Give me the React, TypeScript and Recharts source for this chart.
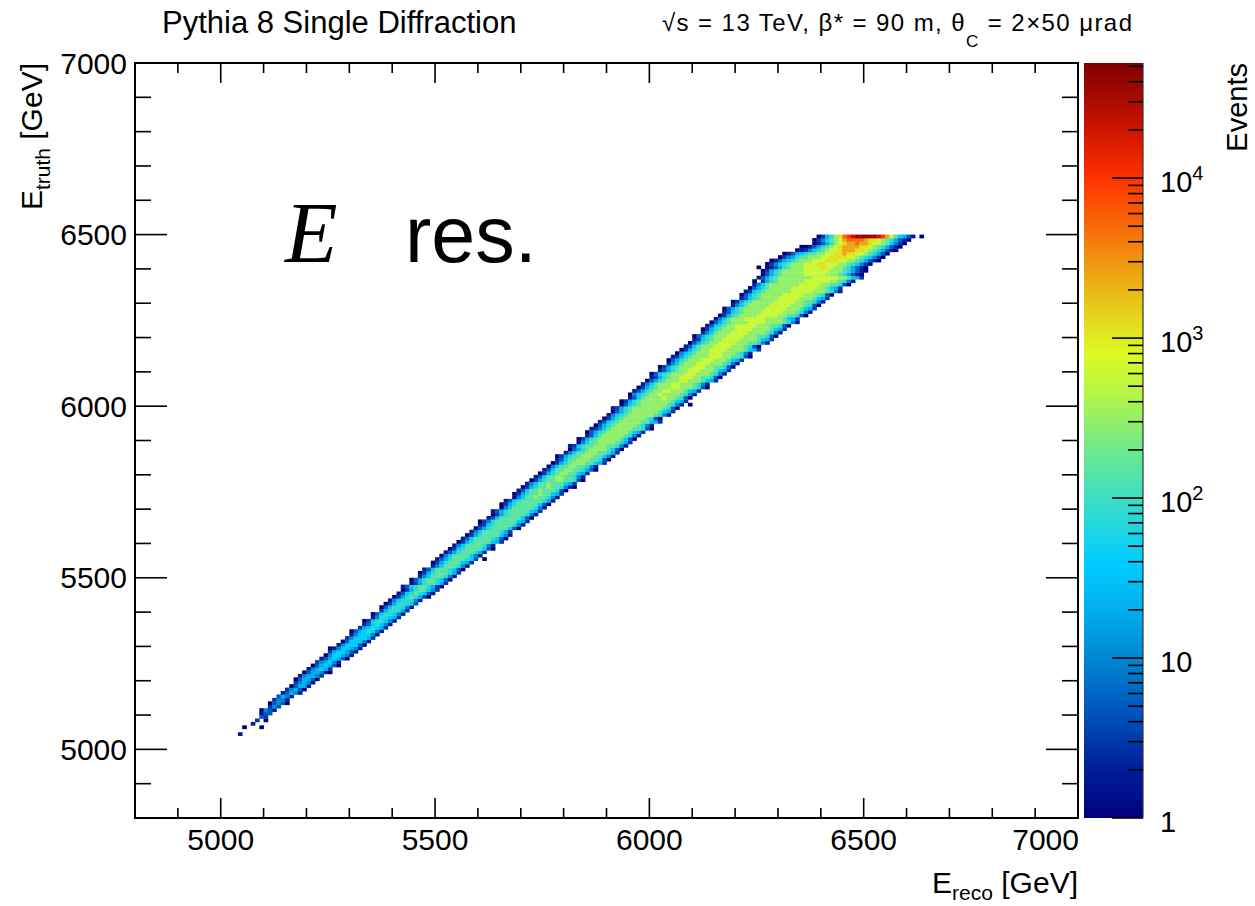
import React from 'react'
import { ScatterChart, Scatter, XAxis, YAxis, ReferenceArea, BarChart, Bar } from 'recharts'

// axis ticks (GeV)
const xTicks = [4900, 5000, 5100, 5200, 5300, 5400, 5500, 5600, 5700, 5800, 5900, 6000, 6100, 6200, 6300, 6400, 6500, 6600, 6700, 6800, 6900, 7000]
const yTicks = [4900, 5000, 5100, 5200, 5300, 5400, 5500, 5600, 5700, 5800, 5900, 6000, 6100, 6200, 6300, 6400, 6500, 6600, 6700, 6800, 6900, 7000]

// colour axis (events, log)
const zTicks = [
  1, 2, 3, 4, 5, 6, 7, 8, 9,
  10, 20, 30, 40, 50, 60, 70, 80, 90,
  100, 200, 300, 400, 500, 600, 700, 800, 900,
  1000, 2000, 3000, 4000, 5000, 6000, 7000, 8000, 9000,
  10000, 20000, 30000, 40000, 50000,
]
const zMajorTicks = [1, 10, 100, 1000, 10000]
const zMajorExp = ['', '', '2', '3', '4']
const zMax = 52400

// palette: log10(events) -> rgb
const paletteLog = [0, 0.3, 0.7, 1.0, 1.3, 1.6, 2.0, 2.3, 2.65, 2.9, 3.1, 3.4, 3.7, 4.0, 4.3, 4.72]
const paletteRgb = [
  [0, 0, 128], [0, 30, 150], [0, 90, 190], [0, 135, 210], [0, 175, 235], [0, 205, 255],
  [60, 222, 195], [110, 232, 140], [180, 245, 70], [220, 250, 35], [228, 220, 28],
  [238, 165, 20], [248, 105, 8], [255, 50, 0], [205, 20, 0], [128, 0, 0],
]

// cell content codes -> events per 10x10 GeV bin ('.' = empty bin)
const levelCodes = '0123456789abcdefg'
const levelCounts = [1, 2, 3, 5, 10, 20, 40, 80, 150, 300, 600, 1200, 2500, 5000, 10000, 20000, 40000]

// [E_truth bin, first E_reco bin, cells left->right]
const bandRows: [number, number, string][] = [
  [5040, 5040, '1'],
  [5060, 5050, '0...0'],
  [5070, 5070, '1'],
  [5080, 5080, '2.0'],
  [5090, 5090, '32'],
  [5100, 5090, '133'],
  [5110, 5090, '0431'],
  [5120, 5110, '243'],
  [5130, 5110, '03430'],
  [5140, 5120, '2441'],
  [5150, 5130, '3541'],
  [5160, 5140, '13541'],
  [5170, 5150, '24530'],
  [5180, 5160, '03551'],
  [5190, 5170, '24541'],
  [5200, 5170, '035530'],
  [5210, 5180, '145542'],
  [5220, 5190, '0355410'],
  [5230, 5200, '145652'],
  [5240, 5210, '0356530'],
  [5250, 5220, '245641'],
  [5260, 5230, '1356530'],
  [5270, 5240, '0466541'],
  [5280, 5250, '2566531'],
  [5290, 5250, '01466541'],
  [5300, 5270, '1466630'],
  [5310, 5280, '0366641'],
  [5320, 5290, '2466652'],
  [5330, 5300, '1466641'],
  [5340, 5300, '03567641'],
  [5350, 5320, '2567652'],
  [5360, 5330, '1367641'],
  [5370, 5330, '02677641'],
  [5380, 5350, '1477652'],
  [5390, 5350, '03677641'],
  [5400, 5370, '2577752'],
  [5410, 5370, '03677741'],
  [5420, 5380, '02577763'],
  [5430, 5390, '14677741'],
  [5440, 5400, '025787520'],
  [5450, 5410, '136787631'],
  [5460, 5420, '025788642'],
  [5470, 5420, '1367887520'],
  [5480, 5440, '025788752'],
  [5490, 5440, '0357887630'],
  [5500, 5460, '146888741'],
  [5510, 5460, '0257888752'],
  [5520, 5470, '1368887630'],
  [5530, 5490, '146888741'],
  [5540, 5490, '0257888652'],
  [5550, 5500, '1357888763.0'],
  [5560, 5510, '0468888641'],
  [5570, 5520, '1357888752'],
  [5580, 5530, '02678888630'],
  [5590, 5540, '1468888741'],
  [5600, 5550, '02578888652'],
  [5610, 5560, '13688887630'],
  [5620, 5570, '02578888641'],
  [5630, 5580, '1468888752'],
  [5640, 5590, '03578888630'],
  [5650, 5600, '12678888741'],
  [5660, 5600, '024788888652'],
  [5670, 5620, '13688888630'],
  [5680, 5630, '02578888741'],
  [5690, 5630, '135788888652'],
  [5700, 5650, '04688888741'],
  [5710, 5650, '025788888630'],
  [5720, 5660, '136788888751'],
  [5730, 5680, '04688988741'],
  [5740, 5680, '025788988652'],
  [5750, 5690, '136889888730'],
  [5760, 5700, '0257889887410'],
  [5770, 5710, '146889888652'],
  [5780, 5720, '0257889988730'],
  [5790, 5730, '136889988741'],
  [5800, 5740, '025789988652'],
  [5810, 5750, '1368899887530'],
  [5820, 5760, '046889988741'],
  [5830, 5770, '0257899988652'],
  [5840, 5780, '1368899988730'],
  [5850, 5780, '02578899988641'],
  [5860, 5800, '1468899988752'],
  [5870, 5810, '0357899998630'],
  [5880, 5810, '12678899988741'],
  [5890, 5830, '0468899998752'],
  [5900, 5830, '02578999998630'],
  [5910, 5850, '1368999998741'],
  [5920, 5850, '03578999998652'],
  [5930, 5860, '124689999988730'],
  [5940, 5870, '03578999998741'],
  [5950, 5880, '136789999988652'],
  [5960, 5890, '02578999998730'],
  [5970, 5900, '146789999998741'],
  [5980, 5910, '035789999998652'],
  [5990, 5910, '1257899999998730'],
  [6000, 5930, '036789999998741.0'],
  [6010, 5930, '0257899999998652'],
  [6020, 5950, '13689999a998730'],
  [6030, 5950, '0467899a99998741'],
  [6040, 5960, '1357899aa9998652'],
  [6050, 5970, '02578999aa9998730'],
  [6060, 5980, '1468999aa9998741'],
  [6070, 5990, '03578999aa9998652'],
  [6080, 6000, '1257899aaa9988730'],
  [6090, 6000, '03678999aaa9998741'],
  [6100, 6020, '1357899aaa9998652'],
  [6110, 6020, '02578999aaa9988730'],
  [6120, 6040, '1468999aaa9998741'],
  [6130, 6040, '03578999aaa9998652'],
  [6140, 6050, '125789999aaa9988730'],
  [6150, 6060, '04678999aaa9998741'],
  [6160, 6070, '0257899aaaa99998652'],
  [6170, 6080, '1368999aaaa9998730'],
  [6180, 6090, '0357899aaaa99988741'],
  [6190, 6100, '1267899aaaa99998652'],
  [6200, 6100, '03578999aaaa99988730'],
  [6210, 6120, '1468999aaaa99998741'],
  [6220, 6120, '02578999aaaa99998652'],
  [6230, 6130, '1367899aaaaa99988730'],
  [6240, 6140, '035789999aaaa99998741'],
  [6250, 6150, '1468999aaaaa99998652'],
  [6260, 6160, '025789999aaaaa9988730'],
  [6270, 6170, '136789999aaaaa9998741'],
  [6280, 6170, '0357899999aaaaa9998652'],
  [6290, 6190, '146899999aaaaa9998730'],
  [6300, 6190, '0257899999aaaaa9988741'],
  [6310, 6210, '136789999aaaaa9998652'],
  [6320, 6210, '0357899999aaaaa9998730'],
  [6330, 6220, '12678999999aaaaa9998741'],
  [6340, 6230, '0357899999aaaaaa998652'],
  [6350, 6240, '14689999999aaaaa9988730'],
  [6360, 6240, '0.2578999999aaaaaa998741'],
  [6370, 6250, '1357899999999aaaaaa998652'],
  [6380, 6260, '0357899999aaaaa999875310'],
  [6390, 6260, '0257899999aaaaaa999875310'],
  [6400, 6250, '0.013578999aaaabaa99875310'],
  [6410, 6270, '024678999aaabbaaa99876420'],
  [6420, 6280, '0135678999aaabbbaa99875310'],
  [6430, 6300, '0245788999aabbbbaa9876420'],
  [6440, 6310, '0135678899aabbcbbaa987530'],
  [6450, 6340, '01246789aabcccbba9875310'],
  [6460, 6350, '00135789abccccbba9875310'],
  [6470, 6380, '013579abccdccbaa986420'],
  [6480, 6380, '024689acddddcbba9875310'],
  [6490, 6390, '02579bdefgggggfeca86531.0'],
]

const PLOT = { left: 135, top: 63, right: 1078, bottom: 818 }
const CELL_W = (10 * (PLOT.right - PLOT.left)) / 2200
const CELL_H = (10 * (PLOT.bottom - PLOT.top)) / 2200
const FONT = '"Liberation Sans", Arial, Helvetica, sans-serif'

const cells = bandRows.flatMap(([truth, start, code]) =>
  code.split('').flatMap((ch, i) =>
    ch === '.' ? [] : [{ ereco: start + 10 * i + 5, etruth: truth + 5, events: levelCounts[levelCodes.indexOf(ch)] }],
  ),
)

const colourBar = [{ name: 'Events', top: zMax }]

function eventColour(n: number) {
  const l = Math.log10(n)
  let i = 0
  while (i < paletteLog.length - 2 && l > paletteLog[i + 1]) i++
  const t = Math.min(1, Math.max(0, (l - paletteLog[i]) / (paletteLog[i + 1] - paletteLog[i])))
  const a = paletteRgb[i]
  const b = paletteRgb[i + 1]
  const c = a.map((v, k) => Math.round(v + (b[k] - v) * t))
  return `rgb(${c[0]},${c[1]},${c[2]})`
}

function renderCell(props: any) {
  const { cx, cy, payload } = props
  return (
    <rect
      x={cx - CELL_W / 2}
      y={cy - CELL_H / 2}
      width={CELL_W + 0.35}
      height={CELL_H + 0.35}
      fill={eventColour(payload.events)}
    />
  )
}

function XTick(props: any) {
  const { x, y, payload } = props
  const v = payload.value
  const major = v % 500 === 0
  const len = major ? 20 : 10
  const last = v === 7000
  return (
    <g>
      <line x1={x} x2={x} y1={y} y2={y - len} stroke="#000" strokeWidth={1.6} />
      <line x1={x} x2={x} y1={PLOT.top} y2={PLOT.top + len} stroke="#000" strokeWidth={1.6} />
      {major && (
        <text x={last ? x + 1 : x} y={y + 32} textAnchor={last ? 'end' : 'middle'} fontSize={30} fontFamily={FONT} fill="#000">
          {v}
        </text>
      )}
    </g>
  )
}

function YTick(props: any) {
  const { x, y, payload } = props
  const v = payload.value
  const major = v % 500 === 0
  const len = major ? 32 : 16
  return (
    <g>
      <line x1={x} x2={x + len} y1={y} y2={y} stroke="#000" strokeWidth={1.6} />
      <line x1={PLOT.right} x2={PLOT.right - len} y1={y} y2={y} stroke="#000" strokeWidth={1.6} />
      {major && (
        <text x={x - 8} y={y + 10.5} textAnchor="end" fontSize={30} fontFamily={FONT} fill="#000">
          {v}
        </text>
      )}
    </g>
  )
}

function ZTick(props: any) {
  const { x, y, payload } = props
  const v = payload.value
  const idx = zMajorTicks.indexOf(v)
  const major = idx >= 0
  return (
    <g>
      <line x1={x} x2={x - (major ? 31 : 15)} y1={y} y2={y} stroke="#000" strokeWidth={1.6} />
      {major && (
        <text x={x + 17} y={y + 14} fontSize={29} fontFamily={FONT} fill="#000">
          {v === 1 ? '1' : '10'}
          {zMajorExp[idx] && (
            <tspan fontSize={20} dy={-12}>
              {zMajorExp[idx]}
            </tspan>
          )}
        </text>
      )}
    </g>
  )
}

export default function App() {
  const zLogMax = Math.log10(zMax)
  return (
    <div style={{ position: 'absolute', left: 0, top: 0, width: 1255, height: 906, background: '#fff', fontFamily: FONT }}>
      <svg width={0} height={0} style={{ position: 'absolute' }}>
        <defs>
          <linearGradient id="eventsGradient" x1="0" y1="1" x2="0" y2="0">
            {paletteLog.map((l, i) => (
              <stop
                key={i}
                offset={Math.min(1, l / zLogMax)}
                stopColor={`rgb(${paletteRgb[i][0]},${paletteRgb[i][1]},${paletteRgb[i][2]})`}
              />
            ))}
          </linearGradient>
        </defs>
      </svg>

      <div style={{ position: 'absolute', left: 0, top: 0 }}>
        <ScatterChart width={1255} height={906} margin={{ top: PLOT.top, right: 1255 - PLOT.right, bottom: 906 - PLOT.bottom - 40, left: PLOT.left - 60 }}>
          <XAxis
            type="number"
            dataKey="ereco"
            domain={[4800, 7000]}
            allowDataOverflow
            ticks={xTicks}
            interval={0}
            tickSize={0}
            tickMargin={0}
            tickLine={false}
            axisLine={false}
            height={40}
            tick={XTick}
          />
          <YAxis
            type="number"
            dataKey="etruth"
            domain={[4800, 7000]}
            allowDataOverflow
            ticks={yTicks}
            interval={0}
            tickSize={0}
            tickMargin={0}
            tickLine={false}
            axisLine={false}
            width={60}
            tick={YTick}
          />
          <Scatter data={cells} shape={renderCell} isAnimationActive={false} />
          <ReferenceArea x1={4800} x2={7000} y1={4800} y2={7000} fill="none" fillOpacity={0} stroke="#000" strokeWidth={2} />
        </ScatterChart>
      </div>

      <div style={{ position: 'absolute', left: 1084, top: 0 }}>
        <BarChart width={171} height={906} data={colourBar} margin={{ top: PLOT.top, right: 52, bottom: 906 - PLOT.bottom, left: 0 }} barCategoryGap={0} barGap={0}>
          <XAxis dataKey="name" hide />
          <YAxis
            orientation="right"
            type="number"
            scale="log"
            domain={[1, zMax]}
            allowDataOverflow
            ticks={zTicks}
            interval={0}
            tickSize={0}
            tickMargin={0}
            tickLine={false}
            axisLine={{ stroke: '#333', strokeWidth: 1.2 }}
            width={60}
            tick={ZTick}
          />
          <Bar dataKey="top" fill="url(#eventsGradient)" isAnimationActive={false} />
        </BarChart>
      </div>

      <svg width={1255} height={906} style={{ position: 'absolute', left: 0, top: 0, pointerEvents: 'none' }} fontFamily={FONT}>
        <text x={162} y={33} fontSize={31} fill="#000">Pythia 8 Single Diffraction</text>
        <text x={662} y={31} fontSize={24} fill="#000" textLength={470} lengthAdjust="spacing">
          √s = 13 TeV,  β* = 90 m,  θ
          <tspan fontSize={17} dy={16}>C</tspan>
          <tspan dy={-16}> = 2×50 μrad</tspan>
        </text>
        <text x={42} y={63} transform="rotate(-90 42 63)" textAnchor="end" fontSize={30} fill="#000">
          E<tspan fontSize={21} dy={8}>truth</tspan>
          <tspan dy={-8}> [GeV]</tspan>
        </text>
        <text x={1078} y={893} textAnchor="end" fontSize={30} fill="#000">
          E<tspan fontSize={21} dy={7}>reco</tspan>
          <tspan dy={-7}> [GeV]</tspan>
        </text>
        <text x={1247} y={63} transform="rotate(-90 1247 63)" textAnchor="end" fontSize={29} fill="#000">
          Events
        </text>
        <text x={285} y={262} fontSize={86} fontStyle="italic" fontFamily='"Liberation Serif", "DejaVu Serif", serif' fill="#000">
          E
        </text>
        <text x={405} y={262} fontSize={79} fill="#000">res.</text>
      </svg>
    </div>
  )
}
